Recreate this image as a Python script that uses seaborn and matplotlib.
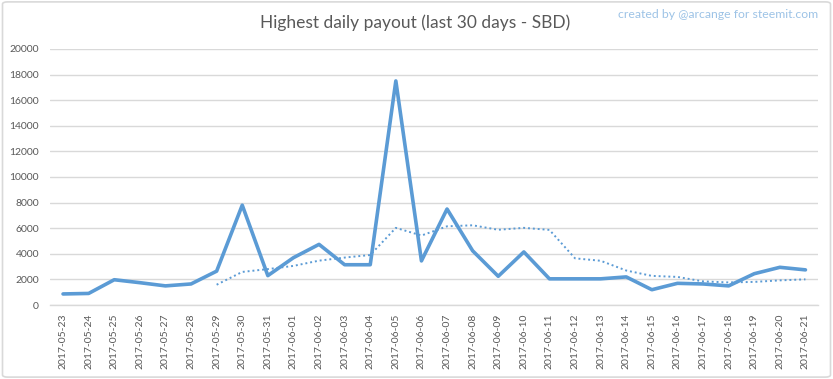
import numpy as np
import pandas as pd
import seaborn as sns
import matplotlib.pyplot as plt
from matplotlib.patches import FancyBboxPatch

# values
dates = ['2017-05-23', '2017-05-24', '2017-05-25', '2017-05-26', '2017-05-27',
         '2017-05-28', '2017-05-29', '2017-05-30', '2017-05-31', '2017-06-01',
         '2017-06-02', '2017-06-03', '2017-06-04', '2017-06-05', '2017-06-06',
         '2017-06-07', '2017-06-08', '2017-06-09', '2017-06-10', '2017-06-11',
         '2017-06-12', '2017-06-13', '2017-06-14', '2017-06-15', '2017-06-16',
         '2017-06-17', '2017-06-18', '2017-06-19', '2017-06-20', '2017-06-21']
payout = [870, 910, 1980, 1750, 1500, 1650, 2650, 7800, 2300, 3700,
          4740, 3150, 3150, 17500, 3450, 7500, 4240, 2250, 4150, 2050,
          2050, 2050, 2200, 1200, 1700, 1650, 1500, 2450, 2950, 2750]
# dotted moving-average trend line (starts on 2017-05-29)
trend = [np.nan, np.nan, np.nan, np.nan, np.nan, np.nan, 1590, 2590, 2810, 3060,
         3470, 3710, 3910, 6030, 5430, 6150, 6230, 5880, 6030, 5870,
         3650, 3460, 2700, 2280, 2200, 1850, 1770, 1810, 1930, 2010]

df = pd.DataFrame({'date': dates, 'payout': payout, 'trend': trend})

sns.set_style('white')
plt.rcParams['font.family'] = ['Lato', 'DejaVu Sans']

blue = '#5b9bd5'
grey_txt = '#595959'
grid_c = '#d9d9d9'

fig = plt.figure(figsize=(8.33, 3.79), dpi=100)
ax = fig.add_axes([0.0603, 0.195, 0.922, 0.676])

sns.lineplot(data=df, x='date', y='payout', ax=ax, color=blue, linewidth=2.6,
             sort=False)
sns.lineplot(data=df.dropna(), x='date', y='trend', ax=ax, color=blue,
             linewidth=1.4, linestyle=(0, (1, 1.5)), sort=False)

ax.set_xlim(-0.5, len(dates) - 0.5)
ax.set_ylim(0, 20000)
ax.set_yticks(np.arange(0, 20001, 2000))
ax.set_xlabel('')
ax.set_ylabel('')
ax.grid(axis='y', color=grid_c, linewidth=1)
ax.set_axisbelow(True)
for s in ['left', 'right', 'top']:
    ax.spines[s].set_visible(False)
ax.spines['bottom'].set_color(grid_c)
ax.spines['bottom'].set_linewidth(1)
ax.tick_params(axis='both', length=0, colors=grey_txt, labelsize=7.5)
ax.tick_params(axis='x', pad=6)
ax.tick_params(axis='y', pad=8)
plt.setp(ax.get_xticklabels(), rotation=90)

fig.text(0.498, 0.941, 'Highest daily payout (last 30 days - SBD)', ha='center',
         va='center', fontsize=12.5, color=grey_txt)
fig.text(0.982, 0.962, 'created by @arcange for steemit.com', ha='right',
         va='center', fontsize=8.8, color='#9dc3e6')

border = FancyBboxPatch((0.003, 0.005), 0.994, 0.99,
                        boxstyle='round,pad=0,rounding_size=0.006',
                        transform=fig.transFigure, fill=False,
                        edgecolor=grid_c, linewidth=1.2)
fig.patches.append(border)

fig.savefig('out.png', dpi=100)
